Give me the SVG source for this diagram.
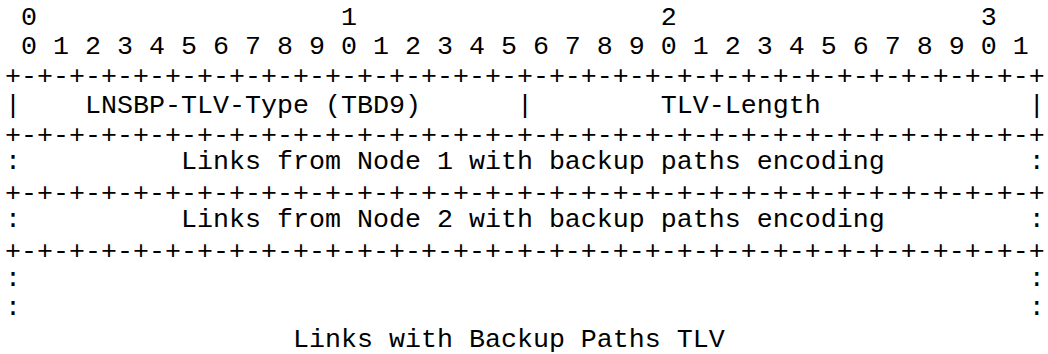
<svg xmlns="http://www.w3.org/2000/svg" width="1048" height="354" viewBox="0 0 1048 354">
  <style>
    text { font-family: "Liberation Mono", "Courier New", monospace; font-size: 26.67px; fill: #000; white-space: pre; }
  </style>
  <rect width="1048" height="354" fill="#fff"/>
  <!-- bit ruler -->
  <g id="ruler" xml:space="preserve">
    <text x="5" y="25"> 0                   1                   2                   3</text>
    <text x="5" y="54"> 0 1 2 3 4 5 6 7 8 9 0 1 2 3 4 5 6 7 8 9 0 1 2 3 4 5 6 7 8 9 0 1</text>
  </g>
  <!-- field borders -->
  <g id="borders" xml:space="preserve">
    <text x="5" y="84.4">+-+-+-+-+-+-+-+-+-+-+-+-+-+-+-+-+-+-+-+-+-+-+-+-+-+-+-+-+-+-+-+-+</text>
    <text x="5" y="143.2">+-+-+-+-+-+-+-+-+-+-+-+-+-+-+-+-+-+-+-+-+-+-+-+-+-+-+-+-+-+-+-+-+</text>
    <text x="5" y="201.2">+-+-+-+-+-+-+-+-+-+-+-+-+-+-+-+-+-+-+-+-+-+-+-+-+-+-+-+-+-+-+-+-+</text>
    <text x="5" y="258.6">+-+-+-+-+-+-+-+-+-+-+-+-+-+-+-+-+-+-+-+-+-+-+-+-+-+-+-+-+-+-+-+-+</text>
  </g>
  <g id="field-type-length" xml:space="preserve">
    <text x="5" y="113">|    LNSBP-TLV-Type (TBD9)      |        TLV-Length             |</text>
  </g>
  <g id="field-node1" xml:space="preserve">
    <text x="5" y="169">:          Links from Node 1 with backup paths encoding         :</text>
  </g>
  <g id="field-node2" xml:space="preserve">
    <text x="5" y="227">:          Links from Node 2 with backup paths encoding         :</text>
  </g>
  <g id="field-more" xml:space="preserve">
    <text x="5" y="286">:                                                               :</text>
    <text x="5" y="315">:                                                               :</text>
  </g>
  <g id="caption" xml:space="preserve">
    <text x="5" y="347">                  Links with Backup Paths TLV</text>
  </g>
</svg>
